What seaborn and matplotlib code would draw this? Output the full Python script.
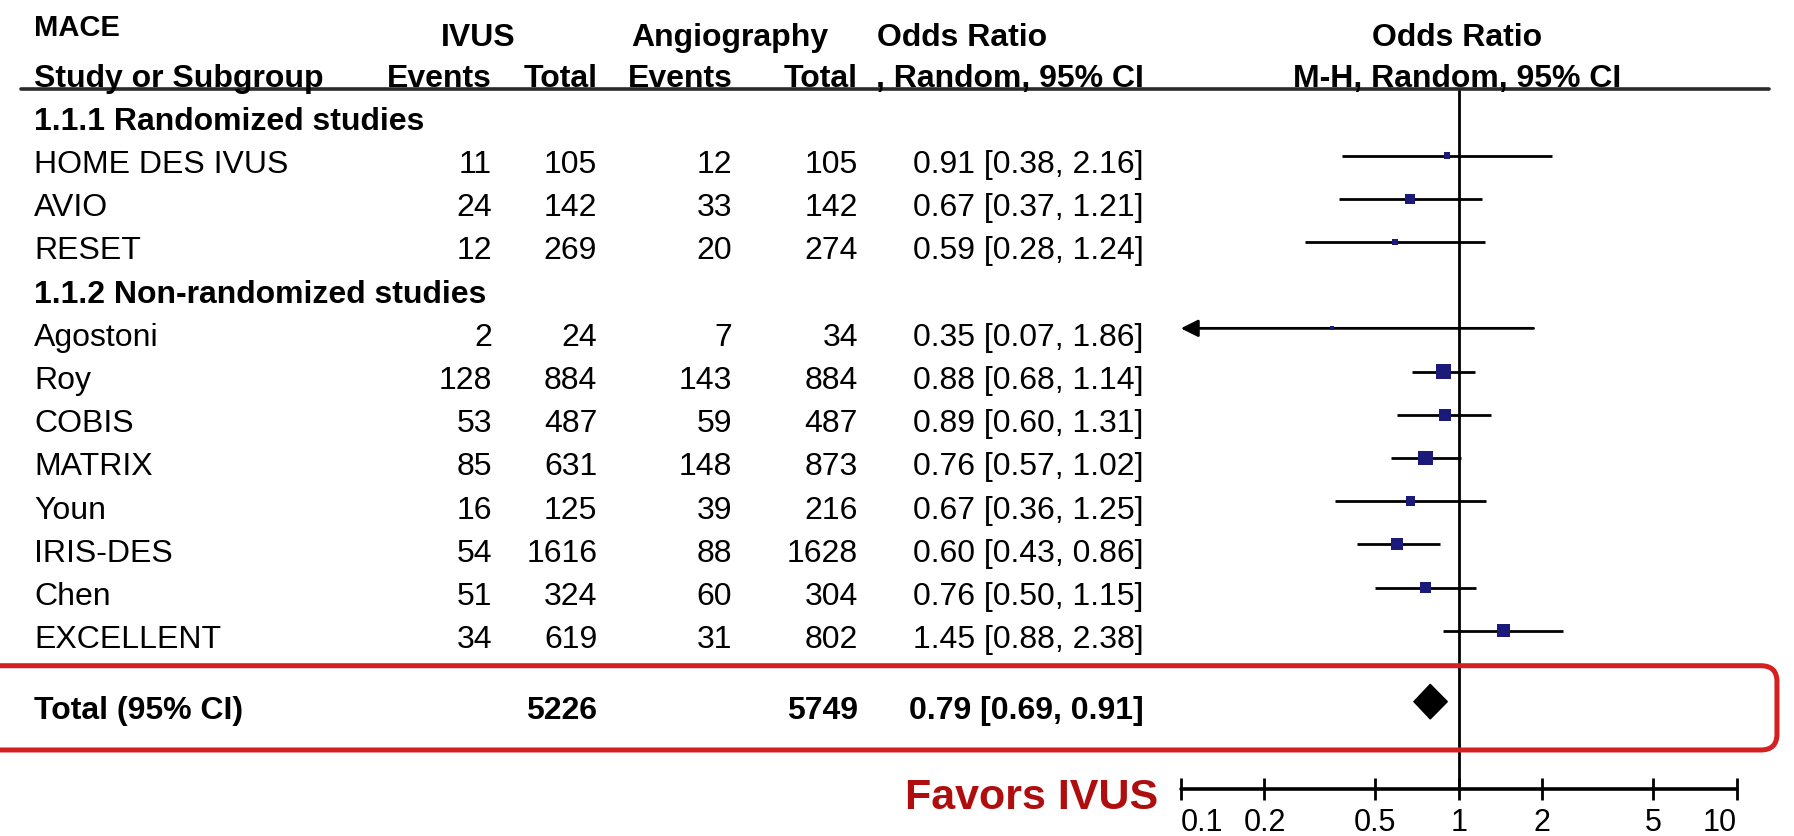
import numpy as np
import pandas as pd
import seaborn as sns
import matplotlib.pyplot as plt
from matplotlib import transforms
from matplotlib.patches import FancyBboxPatch

# -------------------------------
# Data
# -------------------------------
studies = ["HOME DES IVUS", "AVIO", "RESET",
           "Agostoni", "Roy", "COBIS", "MATRIX", "Youn", "IRIS-DES", "Chen", "EXCELLENT"]
subgroups = ["1.1.1 Randomized studies", "1.1.2 Non-randomized studies"]
subgroup_of = [0, 0, 0, 1, 1, 1, 1, 1, 1, 1, 1]
ivus_events = [11, 24, 12, 2, 128, 53, 85, 16, 54, 51, 34]
ivus_total = [105, 142, 269, 24, 884, 487, 631, 125, 1616, 324, 619]
angio_events = [12, 33, 20, 7, 143, 59, 148, 39, 88, 60, 31]
angio_total = [105, 142, 274, 34, 884, 487, 873, 216, 1628, 304, 802]
odds_ratio = [0.91, 0.67, 0.59, 0.35, 0.88, 0.89, 0.76, 0.67, 0.60, 0.76, 1.45]
ci_low = [0.38, 0.37, 0.28, 0.07, 0.68, 0.60, 0.57, 0.36, 0.43, 0.50, 0.88]
ci_high = [2.16, 1.21, 1.24, 1.86, 1.14, 1.31, 1.02, 1.25, 0.86, 1.15, 2.38]
weights = [2.9, 7.5, 3.0, 1.2, 17.7, 11.5, 16.2, 7.1, 11.6, 8.5, 12.8]

total_ivus = 5226
total_angio = 5749
total_or, total_low, total_high = 0.79, 0.69, 0.91

tick_values = [0.1, 0.2, 0.5, 1, 2, 5, 10]
tick_labels = ["0.1", "0.2", "0.5", "1", "2", "5", "10"]

# -------------------------------
# Row layout
# -------------------------------
rows = []
group_rows = []
r = 0
for g in range(len(subgroups)):
    group_rows.append(r)
    r += 1
    for i, sg in enumerate(subgroup_of):
        if sg == g:
            rows.append(r)
            r += 1
total_row = rows[-1] + 1.64
axis_row = 15.66
plot_min = tick_values[0]   # CIs running past the axis get an arrow

df = pd.DataFrame({"study": studies, "row": rows, "or": odds_ratio,
                   "lo": ci_low, "hi": ci_high, "w": weights})

# -------------------------------
# Figure
# -------------------------------
sns.set_theme(style="white")
plt.rcParams["font.family"] = ["Liberation Sans", "DejaVu Sans"]
plt.rcParams["text.color"] = "black"

fig = plt.figure(figsize=(17.94, 8.36), dpi=100)
ax = fig.add_axes([0, 0, 1, 1])
ax.set_xscale("log")
# 0.1 sits at 65.8% of the width, 10 at 96.8%
f01, f10 = 0.6582, 0.9680
dec = (f10 - f01) / 2
ax.set_xlim(10 ** (-1 - f01 / dec), 10 ** (1 + (1 - f10) / dec))
ax.set_ylim(16.75, -2.60)
ax.axis("off")

tr = transforms.blended_transform_factory(fig.transFigure, ax.transData)

navy = "#1b1a78"
lw = 2.0

# CI lines
for _, s in df.iterrows():
    if s["lo"] < plot_min:
        ax.annotate("", xy=(plot_min, s["row"]), xytext=(s["hi"], s["row"]),
                    arrowprops=dict(arrowstyle="-|>", lw=lw, color="black",
                                    mutation_scale=26, shrinkA=0, shrinkB=0))
    else:
        ax.hlines(s["row"], s["lo"], s["hi"], color="black", lw=lw, zorder=2)

sns.scatterplot(data=df, x="or", y="row", size="w",
                sizes={w: 6.6 * w for w in weights}, marker="s",
                color=navy, edgecolor=navy, linewidth=0, legend=False,
                zorder=3, ax=ax)

# total diamond
ax.fill([total_low, total_or, total_high, total_or],
        [total_row, total_row - 0.4, total_row, total_row + 0.4],
        color="black", zorder=3)

# line of no effect and header rule
ax.vlines(1, -0.54, axis_row, color="black", lw=lw, zorder=1)
ax.plot([0.0115, 0.986], [-0.54, -0.54], color="#2a2a2a", lw=2.6, transform=tr)

# x axis
ax.plot([tick_values[0], tick_values[-1]], [axis_row, axis_row], color="black", lw=2.6)
ax.vlines(tick_values, axis_row - 0.25, axis_row + 0.25, color="black", lw=lw)
for i, (tv, tl) in enumerate(zip(tick_values, tick_labels)):
    ha = "left" if i == 0 else ("right" if i == len(tick_values) - 1 else "center")
    ax.text(tv, axis_row + 0.78, tl, ha=ha, va="center", fontsize=22)

# -------------------------------
# Table text
# -------------------------------
fs = 23
dy = 0.22
x_name = 0.0191
x_ie, x_it, x_ae, x_at, x_or = 0.2742, 0.3329, 0.4082, 0.4783, 0.6374

fig.text(x_name, -1.95, "MACE", transform=tr, fontsize=21, fontweight="bold", va="center")
fig.text(0.2666, -1.72, "IVUS", transform=tr, fontsize=fs, fontweight="bold", va="center", ha="center")
fig.text(0.4069, -1.72, "Angiography", transform=tr, fontsize=fs, fontweight="bold", va="center", ha="center")
fig.text(0.5364, -1.72, "Odds Ratio", transform=tr, fontsize=fs, fontweight="bold", va="center", ha="center")
fig.text(0.8120, -1.72, "Odds Ratio", transform=tr, fontsize=fs, fontweight="bold", va="center", ha="center")

hy = -0.78
fig.text(x_name, hy, "Study or Subgroup", transform=tr, fontsize=fs, fontweight="bold", va="center")
fig.text(x_ie, hy, "Events", transform=tr, fontsize=fs, fontweight="bold", va="center", ha="right")
fig.text(x_it, hy, "Total", transform=tr, fontsize=fs, fontweight="bold", va="center", ha="right")
fig.text(x_ae, hy, "Events", transform=tr, fontsize=fs, fontweight="bold", va="center", ha="right")
fig.text(x_at, hy, "Total", transform=tr, fontsize=fs, fontweight="bold", va="center", ha="right")
fig.text(x_or, hy, ", Random, 95% CI", transform=tr, fontsize=fs, fontweight="bold", va="center", ha="right")
fig.text(0.8120, hy, "M-H, Random, 95% CI", transform=tr, fontsize=fs, fontweight="bold", va="center", ha="center")

for g, gr in zip(subgroups, group_rows):
    fig.text(x_name, gr + dy, g, transform=tr, fontsize=fs, fontweight="bold", va="center")

for i in range(len(studies)):
    y = rows[i] + dy
    fig.text(x_name, y, studies[i], transform=tr, fontsize=fs, va="center")
    fig.text(x_ie, y, str(ivus_events[i]), transform=tr, fontsize=fs, va="center", ha="right")
    fig.text(x_it, y, str(ivus_total[i]), transform=tr, fontsize=fs, va="center", ha="right")
    fig.text(x_ae, y, str(angio_events[i]), transform=tr, fontsize=fs, va="center", ha="right")
    fig.text(x_at, y, str(angio_total[i]), transform=tr, fontsize=fs, va="center", ha="right")
    fig.text(x_or, y, f"{odds_ratio[i]:.2f} [{ci_low[i]:.2f}, {ci_high[i]:.2f}]",
             transform=tr, fontsize=fs, va="center", ha="right")

ty = total_row + dy
fig.text(x_name, ty, "Total (95% CI)", transform=tr, fontsize=fs, fontweight="bold", va="center")
fig.text(x_it, ty, str(total_ivus), transform=tr, fontsize=fs, fontweight="bold", va="center", ha="right")
fig.text(x_at, ty, str(total_angio), transform=tr, fontsize=fs, fontweight="bold", va="center", ha="right")
fig.text(x_or, ty, f"{total_or:.2f} [{total_low:.2f}, {total_high:.2f}]",
         transform=tr, fontsize=fs, fontweight="bold", va="center", ha="right")

# red highlight box round the total row
box = FancyBboxPatch((-0.02, 0.1029), 0.02 + 0.9905, 0.2037 - 0.1029,
                     boxstyle="round,pad=0,rounding_size=0.009",
                     transform=fig.transFigure, fill=False,
                     edgecolor="#d42020", lw=3.6, mutation_aspect=2.1)
fig.patches.append(box)

fig.text(0.6455, axis_row + 0.2, "Favors IVUS", transform=tr, fontsize=31,
         fontweight="bold", color="#b00e0e", va="center", ha="right")

fig.savefig("out.png", dpi=100)
